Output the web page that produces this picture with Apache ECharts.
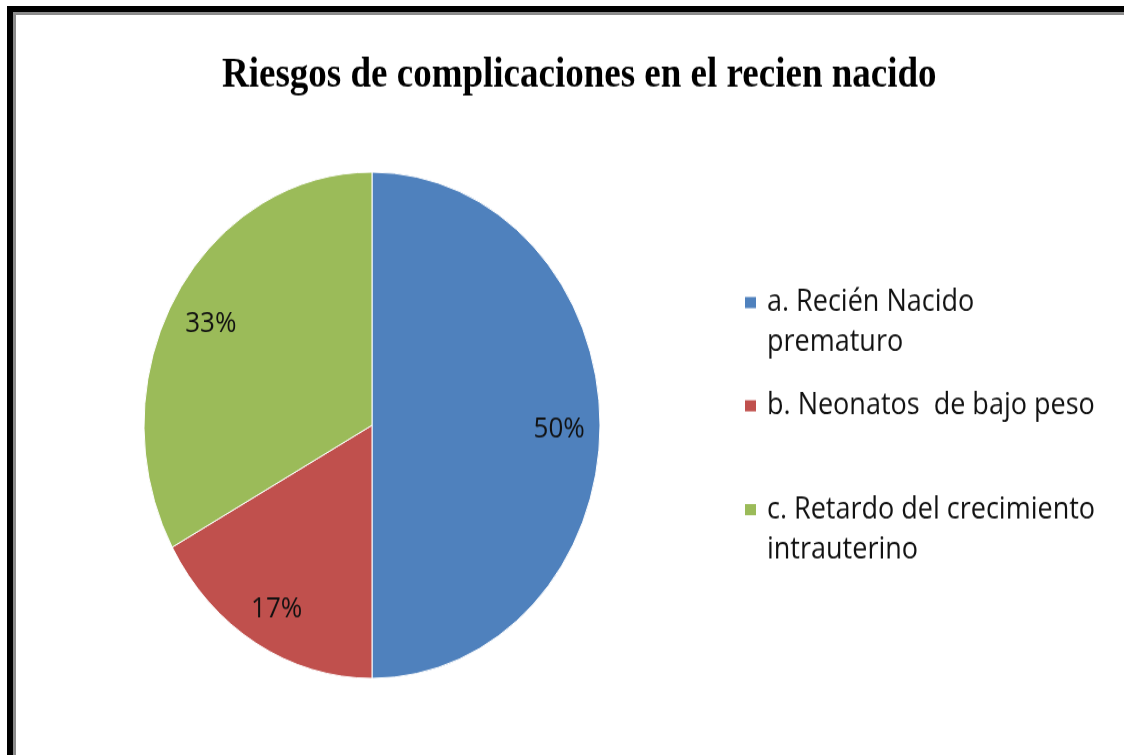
<!DOCTYPE html>
<html>
<head>
<meta charset="utf-8">
<script src="https://cdn.jsdelivr.net/npm/echarts@6/dist/echarts.min.js"></script>
<style>
	html,body{margin:0;padding:0;background:#fff;overflow:hidden;}
	#wrap{position:relative;width:1124px;height:755px;overflow:hidden;}
	#main{position:absolute;left:0;top:0;width:1124px;height:680px;transform:scaleY(1.1103);transform-origin:0 0;}
	#frame{position:absolute;left:7px;top:6px;width:1200px;height:800px;border-left:6px solid #000;border-top:6px solid #000;pointer-events:none;}
	#frame2{position:absolute;left:0;top:0;width:1200px;height:800px;border-left:3px solid #8c8c8c;border-top:3px solid #8c8c8c;}
</style>
</head>
<body>
<div id="wrap">
	<div id="main"></div>
	<div id="frame"><div id="frame2"></div></div>
</div>
<script>
var titulo = "Riesgos de complicaciones en el recien nacido";
var categorias = ["a. Recién Nacido\nprematuro", "b. Neonatos  de bajo peso", "c. Retardo del crecimiento\nintrauterino"];
var valores = [50, 17, 33];
var colores = ["#4F81BD", "#C0504D", "#9BBB59"];

var CX = 372, CY = 383;
var chart = echarts.init(document.getElementById("main"));

var datos = [];
for (var i = 0; i < categorias.length; i++) {
	datos.push({name: categorias[i], value: valores[i], itemStyle: {color: colores[i]}});
}

// una leyenda por elemento para poder separar las filas como en el original
function leyenda(nombre, top, dosLineas) {
	return {
		orient: 'vertical',
		left: 743,
		top: top,
		padding: 0,
		itemWidth: 13,
		itemHeight: 12,
		icon: 'rect',
		selectedMode: false,
		data: [nombre],
		// linea vacia arriba para que el cuadro quede a la altura de la primera linea
		formatter: function (n) { return dosLineas ? '\n' + n : n; },
		textStyle: {
			fontFamily: 'Open Sans',
			fontSize: 27,
			lineHeight: 36,
			color: '#111',
			padding: [0, 0, 0, 5]
		}
	};
}

chart.setOption({
	backgroundColor: '#fff',
	animation: false,
	title: {
		text: titulo,
		left: 217,
		top: 45,
		textStyle: {
			fontFamily: 'Liberation Serif',
			fontWeight: 'bold',
			fontSize: 37,
			color: '#000'
		}
	},
	legend: [
		leyenda(categorias[0], 218.5, true),
		leyenda(categorias[1], 347.5, false),
		leyenda(categorias[2], 405, true)
	],
	series: [{
		type: 'pie',
		center: [CX, CY],
		radius: [0, 228],
		startAngle: 90,
		clockwise: true,
		silent: true,
		percentPrecision: 0,
		itemStyle: {borderColor: '#ffffff', borderWidth: 1},
		label: {
			show: true,
			position: 'inside',
			formatter: '{d}%',
			fontFamily: 'Open Sans',
			fontSize: 26,
			color: '#111'
		},
		labelLayout: function (p) {
			// llevar la etiqueta hacia el borde (~0.81 del radio)
			var lx = p.labelRect.x + p.labelRect.width / 2;
			var ly = p.labelRect.y + p.labelRect.height / 2;
			return {dx: (lx - CX) * 0.6, dy: (ly - CY) * 0.6 + 4};
		},
		data: datos
	}]
});
</script>
</body>
</html>
